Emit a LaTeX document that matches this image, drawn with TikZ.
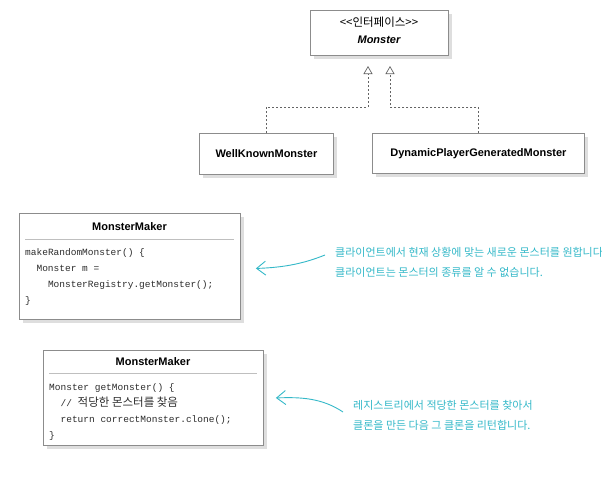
\documentclass[tikz,border=0pt]{standalone}
\usepackage{fontspec}
\setmainfont{Liberation Sans}
\setmonofont{Liberation Mono}
\newfontfamily\krfont{Noto Sans CJK KR}
\usetikzlibrary{positioning,calc,shadows,arrows.meta}
\definecolor{NoteCyan}{RGB}{52,184,200}
\definecolor{BoxLine}{RGB}{140,140,140}
\definecolor{LinkGray}{RGB}{100,100,100}
\definecolor{CodeInk}{RGB}{45,45,45}
\tikzset{
    umlbox/.style={rectangle, draw=BoxLine, line width=0.9pt, fill=white,
        general shadow={fill=black!13, shadow xshift=4pt, shadow yshift=-4pt},
        inner sep=0pt, align=center, font=\bfseries\fontsize{11}{13}\selectfont},
    realize/.style={draw=LinkGray, line width=0.7pt, dash pattern=on 2pt off 2pt,
        -{Triangle[open, length=8pt, width=9pt, line width=0.7pt]}},
    sepline/.style={draw=black!25, line width=0.7pt},
    codetext/.style={inner sep=0pt, align=left, text=CodeInk,
        font=\ttfamily\fontsize{9.5}{16}\selectfont},
    notetext/.style={inner sep=0pt, align=left, text=NoteCyan,
        font=\krfont\fontsize{11}{20}\selectfont},
    notearrow/.style={draw=NoteCyan, line width=0.9pt,
        -{Straight Barb[length=9pt, width=14pt]}}
}

\begin{document}
\begin{tikzpicture}[x=1pt, y=-1pt]
    \useasboundingbox (0,0) rectangle (602,479);

    % --- class diagram ---
    \node[umlbox, minimum width=138pt, minimum height=45pt, anchor=north west] (iface) at (310,10) {};
    \node[font=\krfont\fontsize{11.5}{13}\selectfont, inner sep=0pt] (stereo) at (379,22) {<<인터페이스>>};
    \node[font=\bfseries\itshape\fontsize{11}{13}\selectfont, inner sep=0pt] (ifname) at (379,40) {Monster};

    \node[umlbox, minimum width=134pt, minimum height=41pt, anchor=north west] (wkm) at (199,133) {WellKnownMonster};
    \node[umlbox, minimum width=212pt, minimum height=40pt, anchor=north west] (dpgm) at (372,133) {DynamicPlayerGeneratedMonster};

    \coordinate (tipA) at (368,66);
    \coordinate (tipB) at (390,66);
    \draw[realize] (wkm.north) -- ++(0,-26) -| (tipA);
    \draw[realize] (dpgm.north) -- ++(0,-26) -| (tipB);

    % --- client side MonsterMaker ---
    \node[umlbox, minimum width=221pt, minimum height=106pt, anchor=north west] (maker1) at (19,213) {};
    \node[font=\bfseries\fontsize{11}{13}\selectfont, inner sep=0pt] (title1) at (129.5,227) {MonsterMaker};
    \draw[sepline] (25,239) -- (234,239);
    \node[codetext, anchor=west] (code1) at (25,277) {makeRandomMonster() \{\\
        \hspace*{11.4pt}Monster m =\\
        \hspace*{22.8pt}MonsterRegistry.getMonster();\\
        \}};

    % --- registry side MonsterMaker ---
    \node[umlbox, minimum width=220pt, minimum height=95pt, anchor=north west] (maker2) at (43,350) {};
    \node[font=\bfseries\fontsize{11}{13}\selectfont, inner sep=0pt] (title2) at (153,362) {MonsterMaker};
    \draw[sepline] (49,373) -- (257,373);
    \node[codetext, anchor=west] (code2) at (49,412) {Monster getMonster() \{\\
        \hspace*{11.4pt}// {\krfont\fontsize{11.5}{16}\selectfont 적당한 몬스터를 찾음}\\
        \hspace*{11.4pt}return correctMonster.clone();\\
        \}};

    % --- notes ---
    \node[notetext, anchor=west] (note1) at (335,262) {클라이언트에서 현재 상황에 맞는 새로운 몬스터를 원합니다\\
        클라이언트는 몬스터의 종류를 알 수 없습니다.};
    \node[notetext, anchor=west] (note2) at (353,415) {레지스트리에서 적당한 몬스터를 찾아서\\
        클론을 만든 다음 그 클론을 리턴합니다.};

    \draw[notearrow] ([xshift=-10pt, yshift=7pt]note1.west) .. controls +(-20,8) and +(30,-1) .. ([xshift=15pt, yshift=-2pt]maker1.east);
    \draw[notearrow] ([xshift=-10pt, yshift=3pt]note2.west) .. controls +(-21,-14) and +(25,-1) .. ([xshift=12pt]maker2.east);
\end{tikzpicture}
\end{document}
